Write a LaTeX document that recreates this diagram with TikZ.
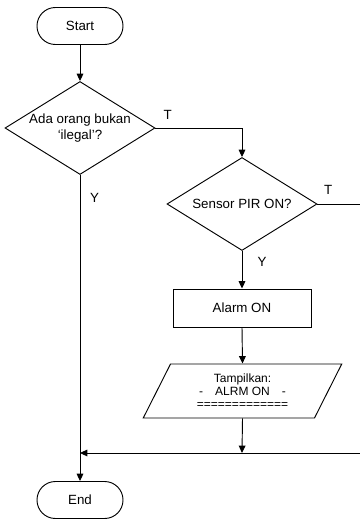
\documentclass[tikz,border=0pt]{standalone}
\usepackage{fontspec}
\setmainfont{Liberation Sans}
\usetikzlibrary{shapes.geometric,arrows.meta}

\begin{document}
\begin{tikzpicture}[x=0.75pt, y=-0.75pt, line width=0.7pt,
        font=\fontsize{10}{12}\selectfont,
        terminal/.style={draw, rounded corners=13.8pt, minimum width=64.5pt, minimum height=27.75pt},
        decision/.style={draw, diamond, aspect=1.6, inner sep=0pt, align=center,
            minimum width=112.5pt, minimum height=69.75pt},
        process/.style={draw, minimum width=103.5pt, minimum height=28.5pt},
        display/.style={draw, trapezium, trapezium left angle=64, trapezium right angle=116,
            trapezium stretches, inner sep=0pt, align=center,
            minimum width=149.25pt, minimum height=40.5pt, font=\fontsize{9}{10}\selectfont},
        flow/.style={-{Triangle[length=5.5pt, width=5pt]}}]
        \useasboundingbox (0,0) rectangle (360,521);

        % Flow blocks
        \node[terminal] (start) at (80,26)  {Start};
        \node[decision] (ada)   at (80,128) {Ada orang bukan\\‘ilegal’?};
        \node[decision] (pir)   at (242,204) {Sensor PIR ON?};
        \node[process]  (alarm) at (242,308) {Alarm ON};
        \node[display]  (show)  at (242.5,391) {Tampilkan:\\-\quad ALRM ON\quad -\\=============};
        \node[terminal] (end)   at (80,500) {End};

        % Free ends and junctions
        \coordinate (out)   at (360,204);
        \coordinate (back)  at (360,453);
        \coordinate (merge) at (242,453);
        \coordinate (join)  at (80,453);

        % Connectors
        \draw[flow] (start) -- (ada);
        \draw[flow] (ada.east) -| node[pos=0.07, above=3pt] {T} (pir.north);
        \draw[flow] (ada.south) -- node[pos=0.075, right=4pt] {Y} (end.north);
        \draw (pir.east) -- node[pos=0.25, above=3.5pt] {T} (out);
        \draw[flow] (pir.south) -- node[pos=0.3, right=8pt] {Y} (alarm.north);
        \draw[flow] (alarm.south) -- (show.north);
        \draw[flow] (show.south) -- (merge);
        \draw[flow] (back) -- (join);
    \end{tikzpicture}
\end{document}
